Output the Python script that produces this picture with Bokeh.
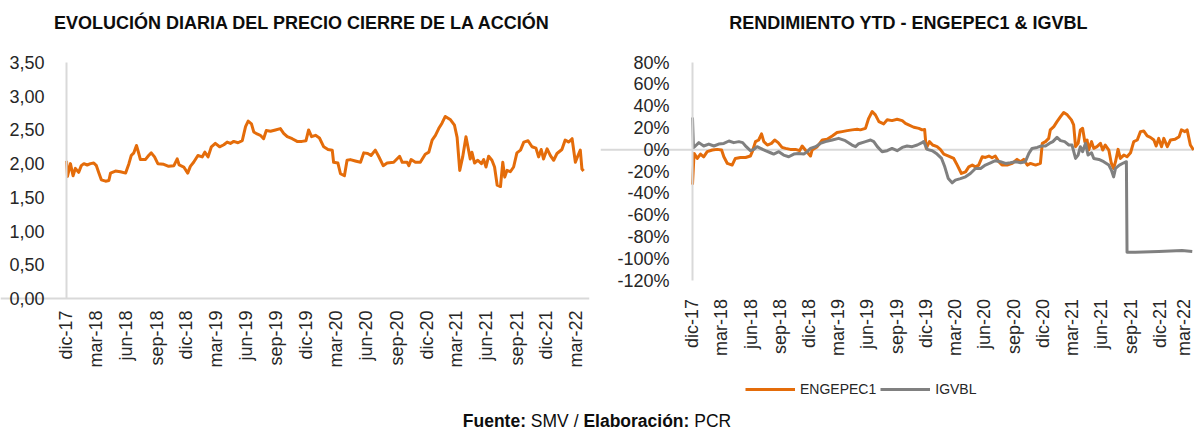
import math
import pandas as pd
from bokeh.plotting import figure
from bokeh.models import FixedTicker, Span, Legend, LegendItem, Div, Range1d, Label
from bokeh.layouts import column, row
from bokeh.embed import file_html
from bokeh.resources import INLINE

# ---------------- data ----------------
fecha_inicio = "2017-12-29"   # day 0 of the series (dic-17)

# left chart: daily closing price (days since fecha_inicio, price)
precio_dias = [
    0, 3, 12, 20, 27, 37, 45, 53, 63, 73,
    83, 91, 98, 106, 119, 129, 134, 149, 164, 180,
    190, 197, 205, 213, 220, 225, 240, 250, 258, 268,
    278, 296, 311, 327, 337, 343, 357, 369, 377, 387,
    400, 413, 421, 431, 441, 453, 466, 479, 489, 499,
    509, 522, 535, 545, 553, 563, 570, 580, 590, 600,
    608, 621, 636, 651, 661, 672, 687, 702, 717, 729,
    737, 746, 758, 770, 783, 796, 809, 813, 826, 834,
    846, 854, 864, 879, 895, 905, 917, 927, 940, 950,
    964, 976, 996, 1014, 1022, 1037, 1042, 1049, 1062, 1077,
    1092, 1103, 1113, 1123, 1133, 1143, 1153, 1169, 1181, 1189,
    1197, 1206, 1216, 1220, 1229, 1234, 1242, 1252, 1263, 1270,
    1277, 1285, 1295, 1303, 1311, 1321, 1328, 1334, 1341, 1351,
    1361, 1371, 1382, 1392, 1405, 1417, 1429, 1437, 1445, 1452,
    1463, 1473, 1483, 1493, 1508, 1518, 1529, 1539, 1549, 1557,
    1564, 1569, 1574,
]
precio_cierre = [
    2.04, 1.81, 2.00, 1.82, 1.93, 1.87, 1.97, 2.00, 1.98, 2.00,
    2.01, 1.97, 1.87, 1.76, 1.74, 1.75, 1.86, 1.89, 1.88, 1.86,
    2.00, 2.12, 2.16, 2.27, 2.15, 2.06, 2.06, 2.12, 2.16, 2.10,
    2.00, 1.99, 1.96, 1.97, 2.07, 1.98, 1.95, 1.86, 1.96, 2.02,
    2.12, 2.10, 2.17, 2.10, 2.25, 2.30, 2.25, 2.28, 2.32, 2.30,
    2.33, 2.31, 2.34, 2.55, 2.63, 2.59, 2.47, 2.44, 2.42, 2.37,
    2.49, 2.48, 2.50, 2.52, 2.45, 2.40, 2.37, 2.33, 2.33, 2.34,
    2.50, 2.40, 2.42, 2.38, 2.25, 2.21, 2.20, 2.02, 2.01, 1.85,
    1.82, 2.05, 2.06, 2.04, 2.02, 2.16, 2.15, 2.12, 2.20, 2.11,
    1.97, 2.01, 2.02, 2.11, 2.02, 2.02, 1.97, 2.06, 2.02, 2.02,
    2.14, 2.17, 2.35, 2.42, 2.52, 2.60, 2.70, 2.65, 2.57, 2.39,
    1.90, 2.10, 2.40, 2.30, 2.07, 2.17, 2.01, 2.05, 2.00, 2.06,
    1.95, 2.11, 2.05, 1.95, 1.68, 1.66, 2.02, 1.80, 1.90, 1.88,
    1.95, 2.16, 2.20, 2.32, 2.34, 2.25, 2.23, 2.10, 2.21, 2.07,
    2.22, 2.12, 2.05, 2.15, 2.21, 2.35, 2.32, 2.37, 2.02, 2.12,
    2.20, 1.92, 1.89,
]

# right chart: YTD return (%) of ENGEPEC1
engepec1_dias = [
    0, 5, 15, 25, 35, 46, 62, 77, 91, 98,
    109, 124, 134, 150, 166, 181, 187, 197, 207, 216,
    223, 234, 247, 257, 268, 280, 291, 306, 322, 335,
    343, 353, 369, 374, 390, 406, 421, 437, 452, 468,
    484, 499, 515, 525, 541, 551, 562, 572, 583, 598,
    609, 624, 640, 656, 666, 676, 692, 708, 718, 726,
    731, 741, 751, 765, 775, 786, 801, 817, 828, 841,
    854, 864, 875, 885, 895, 906, 916, 927, 937, 947,
    958, 968, 984, 1000, 1015, 1026, 1036, 1047, 1057, 1073,
    1088, 1094, 1104, 1114, 1119, 1130, 1140, 1151, 1161, 1172,
    1185, 1192, 1198, 1206, 1213, 1220, 1227, 1234, 1239, 1248,
    1255, 1265, 1276, 1283, 1291, 1302, 1310, 1317, 1323, 1331,
    1338, 1349, 1359, 1370, 1380, 1391, 1401, 1411, 1422, 1432,
    1443, 1450, 1458, 1467, 1474, 1485, 1495, 1509, 1522, 1529,
    1540, 1547, 1557, 1567,
]
engepec1_ytd = [
    -32.0, -3.4, -8.0, -4.0, -6.5, -1.8, -0.3, 0.3, -0.3, -6.5,
    -12.6, -14.1, -8.0, -7.1, -7.1, -5.8, -1.8, 7.4, 8.9, 14.5,
    7.4, 4.3, 5.8, 8.9, 6.5, 2.1, 1.2, 0.3, 0.3, -0.9,
    3.4, -0.3, -5.8, -0.3, 2.8, 8.9, 9.5, 12.6, 15.7, 16.6,
    17.5, 18.2, 18.7, 18.2, 19.6, 28.8, 35.0, 32.0, 25.8, 23.7,
    27.4, 26.7, 27.9, 26.7, 24.2, 22.8, 20.6, 19.6, 18.2, 18.5,
    1.2, 7.4, 4.3, 2.8, 0.3, -4.0, -5.8, -8.0, -14.1, -21.8,
    -20.3, -15.7, -14.1, -15.7, -14.1, -6.5, -7.1, -5.8, -7.4, -5.8,
    -11.0, -14.1, -14.1, -12.6, -8.9, -11.0, -8.9, -14.1, -12.6, -14.1,
    -12.6, 5.8, 7.4, 10.4, 18.2, 21.2, 25.8, 30.4, 34.1, 32.0,
    27.4, 22.8, 2.8, 5.8, 18.2, 19.6, 7.4, 8.9, -0.3, 7.4,
    1.2, 2.8, 5.8, -0.3, 4.3, -0.3, -12.6, -17.2, -11.0, 0.3,
    -8.0, -4.9, -6.5, -2.8, 7.4, 8.9, 16.6, 17.2, 12.6, 11.3,
    8.9, 3.4, 10.4, 2.8, 10.4, 2.8, 8.9, 9.5, 12.0, 18.2,
    16.6, 18.2, 4.3, -0.3,
]

# right chart: YTD return (%) of IGVBL
igvbl_dias = [
    0, 3, 9, 20, 35, 51, 67, 82, 98, 114,
    129, 145, 157, 168, 181, 192, 202, 213, 228, 244,
    254, 270, 285, 301, 317, 332, 348, 359, 369, 385,
    400, 416, 437, 457, 478, 499, 510, 520, 541, 557,
    567, 578, 593, 609, 624, 640, 656, 671, 687, 703,
    718, 723, 734, 750, 765, 779, 789, 800, 812, 822,
    838, 854, 869, 885, 901, 916, 932, 947, 963, 979,
    994, 1010, 1026, 1041, 1052, 1062, 1078, 1091, 1104, 1116,
    1127, 1140, 1151, 1164, 1177, 1187, 1198, 1206, 1213, 1220,
    1229, 1237, 1248, 1255, 1271, 1286, 1302, 1310, 1317, 1323,
    1335, 1349, 1357, 1359, 1385, 1458, 1531, 1563,
]
igvbl_ytd = [
    29.5, 2.0, 3.4, 6.5, 3.4, 5.2, 3.4, 5.2, 5.8, 8.0,
    6.5, 7.4, 6.5, 2.8, -0.9, 0.3, 2.8, 1.2, -0.9, -2.8,
    -4.0, -1.8, -4.9, -6.5, -4.0, -3.4, -4.0, -1.8, 1.2, 2.8,
    5.8, 7.4, 8.9, 10.4, 8.3, 4.3, 2.8, 5.5, 7.4, 8.9,
    7.4, 2.8, -1.8, -0.9, 1.2, -0.9, 2.1, 3.4, 2.8, 4.3,
    6.5, 7.4, 0.3, -0.9, -4.0, -8.0, -15.7, -26.5, -30.4, -27.9,
    -26.5, -24.9, -21.8, -17.2, -17.2, -14.1, -12.0, -10.1, -11.0, -12.6,
    -12.0, -11.0, -12.0, -11.0, -3.4, 1.2, 2.1, 3.4, 3.4, 5.8,
    7.4, 11.3, 8.3, 7.4, 4.3, 4.3, -8.0, -4.9, 2.8, -1.8,
    5.8, -4.9, -2.8, -8.0, -8.9, -11.0, -14.1, -18.7, -24.9, -17.2,
    -14.1, -12.0, -11.0, -94.0, -94.0, -93.4, -92.5, -93.4,
]

etiquetas_x = ["dic-17", "mar-18", "jun-18", "sep-18", "dic-18", "mar-19",
               "jun-19", "sep-19", "dic-19", "mar-20", "jun-20", "sep-20",
               "dic-20", "mar-21", "jun-21", "sep-21", "dic-21", "mar-22"]
ticks_precio = [0.0, 0.5, 1.0, 1.5, 2.0, 2.5, 3.0, 3.5]
etiquetas_precio = ["0,00", "0,50", "1,00", "1,50", "2,00", "2,50", "3,00", "3,50"]
ticks_ytd = [-120, -100, -80, -60, -40, -20, 0, 20, 40, 60, 80]
etiquetas_ytd = ["-120%", "-100%", "-80%", "-60%", "-40%", "-20%", "0%",
                 "20%", "40%", "60%", "80%"]

titulo_precio = "EVOLUCIÓN DIARIA DEL PRECIO CIERRE DE LA ACCIÓN"
titulo_ytd = "RENDIMIENTO YTD - ENGEPEC1 & IGVBL"

# ---------------- styling ----------------
FONT = "Liberation Sans"
NARANJA = "#E46C0A"
GRIS = "#808080"
EJE = "#D9D9D9"
TEXTO = "#262626"
FS = "18px"

base = pd.Timestamp(fecha_inicio)


def fechas(dias):
    return [base + pd.Timedelta(days=int(d)) for d in dias]


def ms(ts):
    return int(pd.Timestamp(ts).value // 10**6)


tick_ms = [ms(base + pd.DateOffset(months=3 * i)) for i in range(len(etiquetas_x))]
x_overrides = dict(zip(tick_ms, etiquetas_x))


def estilo(p, titulo, titulo_x):
    p.grid.visible = False
    p.outline_line_color = None
    for ax in p.axis:
        ax.major_label_text_font = FONT
        ax.major_label_text_font_size = FS
        ax.major_label_text_color = TEXTO
        ax.major_tick_line_color = None
        ax.minor_tick_line_color = None
        ax.axis_line_color = EJE
        ax.axis_line_width = 2
    p.xaxis.ticker = FixedTicker(ticks=tick_ms)
    p.xaxis.major_label_overrides = x_overrides
    p.xaxis.major_label_orientation = math.pi / 2
    p.yaxis.fixed_location = ms(base)
    p.add_layout(Label(x=titulo_x, y=378, x_units="screen", y_units="screen",
                       text=titulo, text_align="center", text_baseline="middle",
                       text_font=FONT, text_font_size=FS,
                       text_font_style="bold", text_color="#0D0D0D"))


H = 412
# Both frames fill their figure down to y=400; the value and date ranges
# extend beyond the plotted area so that titles, tick labels and the legend
# sit inside the frames.

# ---------------- left chart ----------------
p1 = figure(width=600, height=H, x_axis_type="datetime",
            output_backend="svg", toolbar_location=None,
            x_range=Range1d(ms(base - pd.Timedelta(days=200.9)),
                            ms(base + pd.Timedelta(days=1592))),
            y_range=Range1d(-1.5127, 4.4195),
            min_border_left=0, min_border_right=11,
            min_border_top=0, min_border_bottom=H - 400)
estilo(p1, titulo_precio, 302)
p1.yaxis.ticker = FixedTicker(ticks=ticks_precio)
p1.yaxis.major_label_overrides = dict(zip(ticks_precio, etiquetas_precio))
p1.yaxis.major_label_standoff = 16
p1.yaxis.bounds = (0, 3.5)
p1.xaxis.fixed_location = 0
p1.xaxis.major_label_standoff = 6
p1.line(x=fechas(precio_dias), y=precio_cierre, line_color=NARANJA,
        line_width=3, line_join="round")

# ---------------- right chart ----------------
p2 = figure(width=594, height=H, x_axis_type="datetime",
            output_backend="svg", toolbar_location=None,
            x_range=Range1d(ms(base - pd.Timedelta(days=287.7)),
                            ms(base + pd.Timedelta(days=1570))),
            y_range=Range1d(-230.1, 136.9),
            min_border_left=0, min_border_right=0,
            min_border_top=0, min_border_bottom=H - 400)
estilo(p2, titulo_ytd, 308)
p2.yaxis.ticker = FixedTicker(ticks=ticks_ytd)
p2.yaxis.major_label_overrides = dict(zip(ticks_ytd, etiquetas_ytd))
p2.yaxis.major_label_standoff = 17
p2.yaxis.bounds = (-120, 80)
p2.xaxis.axis_line_color = None
p2.xaxis.fixed_location = -126
p2.xaxis.major_label_standoff = 6
p2.add_layout(Span(location=0, dimension="width", line_color=EJE,
                   line_width=2, level="underlay"))
r_eng = p2.line(x=fechas(engepec1_dias), y=engepec1_ytd, line_color=NARANJA,
                line_width=3, line_join="round")
r_igv = p2.line(x=fechas(igvbl_dias), y=igvbl_ytd, line_color=GRIS,
                line_width=3, line_join="round")

legend = Legend(items=[LegendItem(label="ENGEPEC1", renderers=[r_eng]),
                       LegendItem(label="IGVBL", renderers=[r_igv])],
                location=(145, 1), orientation="horizontal",
                border_line_color=None, background_fill_alpha=0,
                padding=0, margin=0, spacing=4,
                glyph_width=50, glyph_height=20, label_standoff=5,
                label_height=20,
                label_text_font=FONT, label_text_font_size="14px",
                label_text_color=TEXTO)
p2.add_layout(legend)

footer = Div(text="<b>Fuente:</b> SMV / <b>Elaboración:</b> PCR",
             width=1194, height=18, margin=(0, 0, 0, 0),
             styles={"text-align": "center", "font-family": FONT,
                     "font-size": "17.5px", "color": "#0D0D0D",
                     "line-height": "18px"})

layout = column(row(p1, p2), footer)
open("out.html", "w").write(file_html(layout, INLINE))
